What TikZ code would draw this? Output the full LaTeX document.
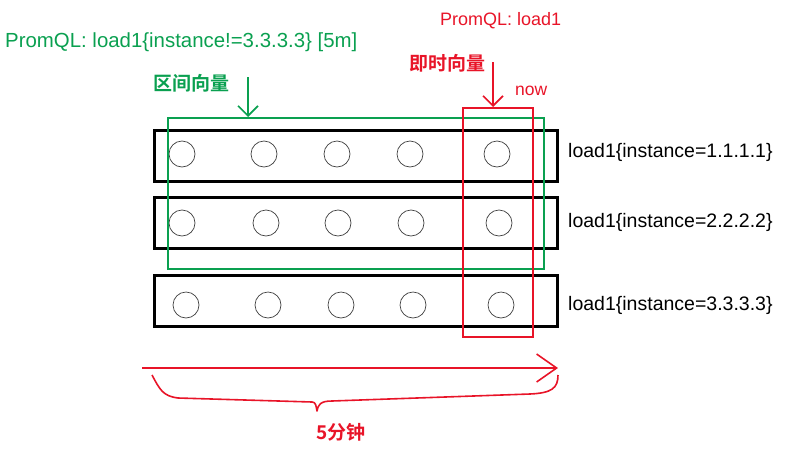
\documentclass[tikz,border=0pt]{standalone}
\usepackage{fontspec}
\setmainfont{Liberation Sans}
\newfontfamily\cjk{Noto Sans CJK SC}[BoldFont={* Bold}]
\usetikzlibrary{arrows.meta}
\definecolor{sgreen}{RGB}{10,160,80}
\definecolor{sred}{RGB}{232,20,40}
\tikzset{
  bar/.style={draw=black, line width=2.6pt, minimum width=403pt, minimum height=51pt, inner sep=0pt, anchor=north west},
  dot/.style={draw=black!75, line width=0.7pt, circle, minimum size=26pt, inner sep=0pt},
  grbox/.style={draw=sgreen, line width=2.2pt, inner sep=0pt, anchor=north west},
  rdbox/.style={draw=sred, line width=2.2pt, inner sep=0pt, anchor=north west},
  lbl/.style={anchor=base west, inner sep=0pt, font=\fontsize{19.5}{22}\selectfont},
  cjklbl/.style={inner sep=0pt, font=\cjk\bfseries\fontsize{19}{22}\selectfont},
  harrow/.style={line width=1.6pt, -{Straight Barb[length=10pt,width=20pt]}}
}
\begin{document}
\begin{tikzpicture}[x=1pt,y=-1pt]
\useasboundingbox (0,0) rectangle (789,450);
% bars
\node[bar] (r1) at (153,129) {};
\node[bar] (r2) at (153,196) {};
\node[bar] (r3) at (153,274) {};
% circles
\foreach \i/\x in {1/182,2/264,3/337,4/410,5/497} \node[dot] (a\i) at (\x,154) {};
\foreach \i/\x in {1/182,2/266,3/338,4/411,5/499} \node[dot] (b\i) at (\x,223) {};
\foreach \i/\x in {1/186,2/268,3/341,4/413,5/501} \node[dot] (c\i) at (\x,305) {};
% green range box
\node[grbox, minimum width=376pt, minimum height=151pt] (g) at (167,117) {};
% red instant box
\node[rdbox, minimum width=70pt, minimum height=229pt] (rb) at (462,107) {};
% series labels
\node[lbl] (l1) at (568,157) {load1\{instance=1.1.1.1\}};
\node[lbl] (l2) at (568,227) {load1\{instance=2.2.2.2\}};
\node[lbl] (l3) at (568,310) {load1\{instance=3.3.3.3\}};
% green labels
\node[lbl, text=sgreen, font=\fontsize{20.4}{24}\selectfont] (gq) at (5,47) {PromQL: load1\{instance!=3.3.3.3\} [5m]};
\node[cjklbl, text=sgreen] (gt) at (191,83) {区间向量};
\coordinate (ga) at (248,77);
\draw[harrow, draw=sgreen] (ga) -- (ga |- g.north);
% red labels
\node[lbl, text=sred, font=\fontsize{18}{22}\selectfont] (rq) at (440,25) {PromQL: load1};
\node[cjklbl, text=sred] (rt) at (447.5,63) {即时向量};
\node[lbl, text=sred, font=\fontsize{17.5}{21}\selectfont] (now) at (515,95) {now};
\coordinate (ra) at (493,62);
\draw[harrow, draw=sred] (ra) -- (ra |- rb.north);
% time axis
\coordinate (t0) at (142,368);
\coordinate (t1) at (558,368);
\draw[line width=1.6pt, draw=sred, -{Straight Barb[length=20pt,width=28pt]}] (t0) -- (t1);
\draw[line width=1.6pt, draw=sred, line join=round]
  (152,375) .. controls (160,390) and (163,396) .. (178,398)
  -- (312,402) .. controls (316,402) and (316,406) .. (317,411)
  .. controls (318,405) and (320,401) .. (332,401)
  -- (530,394) .. controls (552,393) and (558,388) .. (558,375);
\node[cjklbl, text=sred] (five) at (341,432) {5分钟};
\end{tikzpicture}
\end{document}
